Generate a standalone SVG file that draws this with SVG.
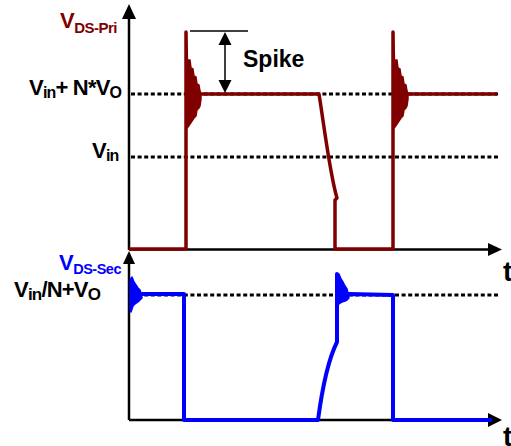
<svg xmlns="http://www.w3.org/2000/svg" width="511" height="446" viewBox="0 0 511 446">
<style>
text{font-family:"Liberation Sans",Arial,sans-serif;font-weight:bold;}
.ax{stroke:#000;stroke-width:2.5;fill:none;}
.ah{fill:#000;stroke:none;}
.dash{stroke:#000;stroke-width:3;stroke-dasharray:4 2.6;fill:none;}
.pri{stroke:#800000;stroke-width:3.5;fill:none;stroke-linejoin:round;}
.prif{fill:#800000;stroke:#800000;stroke-width:1.5;stroke-linejoin:round;}
.sec{stroke:#0000ff;stroke-width:4;fill:none;stroke-linejoin:round;}
.secf{fill:#0000ff;stroke:#0000ff;stroke-width:1.5;stroke-linejoin:round;}
.ann{stroke:#000;stroke-width:1.5;fill:none;}
.lbl{font-size:22px;letter-spacing:-0.8px;}
</style>
<rect width="511" height="446" fill="#fff"/>
<g id="axes">
<line class="ax" x1="129" y1="17" x2="129" y2="250"/>
<polygon class="ah" points="129,4 122,19 136,19"/>
<line class="ax" x1="129" y1="249.5" x2="490" y2="249.5"/>
<polygon class="ah" points="502,249.5 488,243 488,256"/>
<line class="ax" x1="129" y1="262" x2="129" y2="420"/>
<polygon class="ah" points="129,251 123,264 135,264"/>
<line class="ax" x1="129" y1="420" x2="490" y2="420"/>
<polygon class="ah" points="502,420 488,413 488,427"/>
</g>
<g id="levels">
<line class="dash" x1="131" y1="94" x2="500" y2="94"/>
<line class="dash" x1="131" y1="157" x2="500" y2="157"/>
<line class="dash" x1="131" y1="295" x2="500" y2="295"/>
</g>
<g id="vds-pri-wave">
<path class="pri" d="M129,249 L186,249 L186,32 L187,100 L201,94 L319,94 C324,125 330,175 337,198 L335,200 L335,249 L393,249 L393,32 L394,100 L408,94 L497,94"/>
<polygon class="prif" points="187,60 190,60 191,68 193,69 194,76 196,77 197,84 199,85 200,91 201,94 201,99 200,106 199,108 197,110 196,116 194,118 192,121 190,124 188,127 187,128"/>
<polygon class="prif" points="394,60 397,60 398,68 400,69 401,76 403,77 404,84 406,85 407,91 408,94 408,99 407,106 406,108 404,110 403,116 401,118 399,121 397,124 395,127 394,128"/>
</g>
<g id="vds-sec-wave">
<path class="sec" d="M131,300 L142,294 L184,294 L184,420 L318,420 C322,390 328,360 337,342 L337,274 L338,296 L349,294 L393,295 L393,420 L492,420"/>
<polygon class="secf" points="130,310 130,280 132,277 134,282 136,285 138,288 140,290 141,293 142,298 140,300 138,302 135,304 133,306 131,312"/>
<polygon class="secf" points="337,300 337,276 339,274 341,279 343,282 345,286 347,289 348,293 349,298 347,300 345,301 342,302 339,304"/>
</g>
<g id="spike-annotation">
<line class="ann" x1="190" y1="31" x2="248" y2="31"/>
<line class="ann" x1="225" y1="42" x2="225" y2="84"/>
<polygon class="ah" points="225,32 218.5,45 231.5,45"/>
<polygon class="ah" points="225,93 218.5,80 231.5,80"/>
<text x="243" y="67" font-size="23">Spike</text>
</g>
<g id="labels">
<text x="60" y="28" font-size="22" fill="#800000" letter-spacing="-0.5">V<tspan font-size="15" dy="5">DS-Pri</tspan></text>
<text class="lbl" x="29" y="95">V<tspan font-size="16" dy="3">in</tspan><tspan dy="-3">+ N*V</tspan><tspan font-size="16" dy="3">O</tspan></text>
<text class="lbl" x="92" y="158">V<tspan font-size="16" dy="3">in</tspan></text>
<text x="59" y="270" font-size="22" fill="#0000ff" letter-spacing="-0.5">V<tspan font-size="14.5" dy="4">DS-Sec</tspan></text>
<text class="lbl" x="14" y="297">V<tspan font-size="17" dy="3">in</tspan><tspan dy="-3">/N+V</tspan><tspan font-size="17" dy="3">O</tspan></text>
<text x="503" y="281" font-size="28">t</text>
<text x="503" y="446" font-size="28">t</text>
</g>
</svg>
